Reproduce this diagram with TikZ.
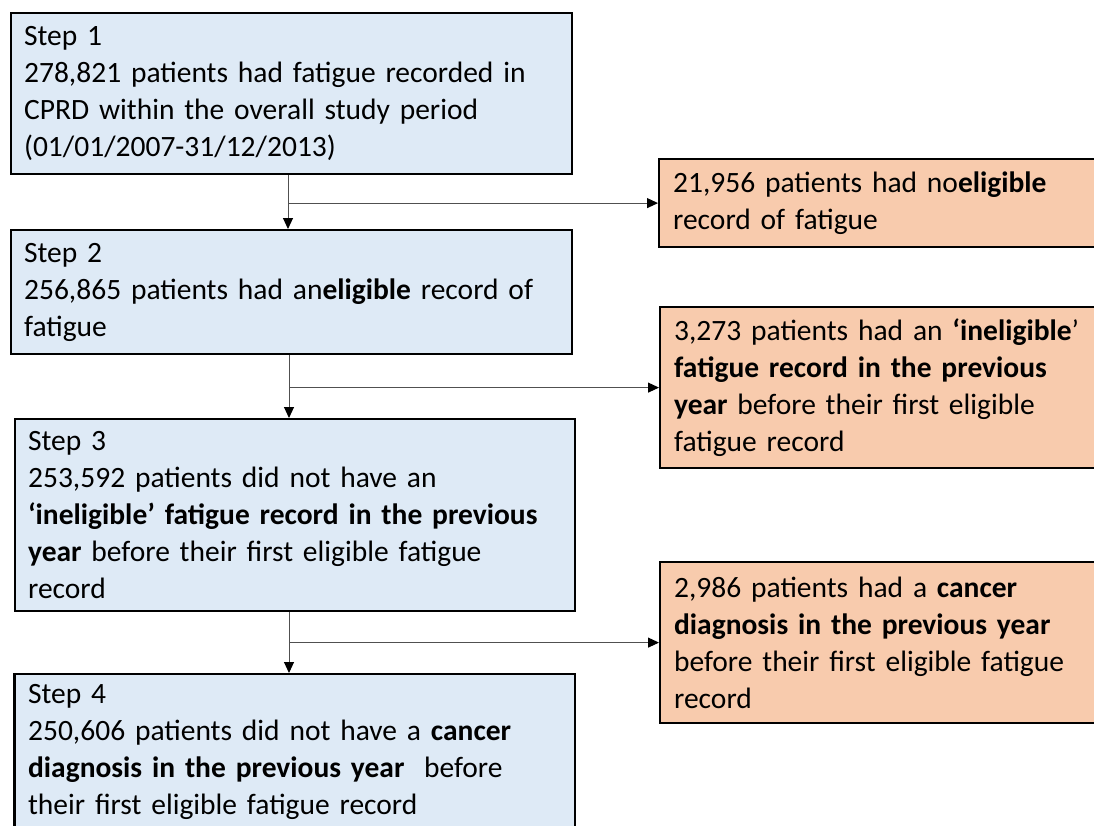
\documentclass[tikz,border=0pt]{standalone}
\usepackage{fontspec}
\setmainfont{Carlito}
\usetikzlibrary{arrows.meta}
\definecolor{boxblue}{HTML}{DEEAF6}
\definecolor{boxorange}{HTML}{F8CBAD}
\definecolor{linegray}{HTML}{505050}
\tikzset{
  basebox/.style={draw=black, line width=2.2pt, anchor=north west, align=left,
    inner xsep=13pt, inner ysep=0pt, font=\fontsize{29.5}{37}\selectfont},
  stepbox/.style={basebox, fill=boxblue},
  exclbox/.style={basebox, fill=boxorange},
  flow/.style={draw=linegray, line width=1pt, -{Triangle[length=11pt,width=10pt,color=black,fill=black]}},
}
\begin{document}
\begin{tikzpicture}[x=1pt,y=-1pt]
\useasboundingbox (0,0) rectangle (1094,825);
\clip (0,0) rectangle (1094,825);
\node[stepbox, minimum width=561pt, minimum height=161pt, text width=535pt] (b1) at (10,12)
 {Step 1\\278,821 patients had fatigue recorded in\\CPRD within the overall study period\\(01/01/2007-31/12/2013)};
\node[stepbox, minimum width=561pt, minimum height=124pt, text width=535pt] (b2) at (10,229)
 {Step 2\\256,865 patients had an\textbf{eligible} record of\\fatigue};
\node[stepbox, minimum width=560pt, minimum height=192pt, text width=534pt] (b3) at (14,418)
 {Step 3\\253,592 patients did not have an\\\textbf{‘ineligible’ fatigue record in the previous}\\\textbf{year} before their first eligible fatigue\\record};
\node[stepbox, minimum width=560pt, minimum height=156pt, text width=534pt] (b4) at (14,673)
 {Step 4\\250,606 patients did not have a \textbf{cancer}\\\textbf{diagnosis in the previous year}\ \ before\\their first eligible fatigue record};
\node[exclbox, minimum width=460pt, minimum height=88pt, text width=432pt] (r1) at (658,158)
 {21,956 patients had no\textbf{eligible}\\record of fatigue};
\node[exclbox, minimum width=460pt, minimum height=161pt, text width=432pt] (r2) at (659,306)
 {3,273 patients had an \textbf{‘ineligible}’\\\textbf{fatigue record in the previous}\\\textbf{year} before their first eligible\\fatigue record};
\node[exclbox, minimum width=460pt, minimum height=161pt, text width=432pt] (r3) at (659,561)
 {2,986 patients had a \textbf{cancer}\\\textbf{diagnosis in the previous year}\\before their first eligible fatigue\\record};
\draw[black, line width=2.2pt] (b4.north west) -- (b4.south west);
\coordinate (v1) at (288,0);
\coordinate (v2) at (289,0);
\draw[flow] (b1.south -| v1) -- (b2.north -| v1);
\draw[flow] (v1 |- r1.west) -- (r1.west);
\draw[flow] (b2.south -| v2) -- (b3.north -| v2);
\draw[flow] (v2 |- r2.west) -- (r2.west);
\draw[flow] (b3.south -| v2) -- (b4.north -| v2);
\draw[flow] (v2 |- r3.west) -- (r3.west);
\end{tikzpicture}
\end{document}
